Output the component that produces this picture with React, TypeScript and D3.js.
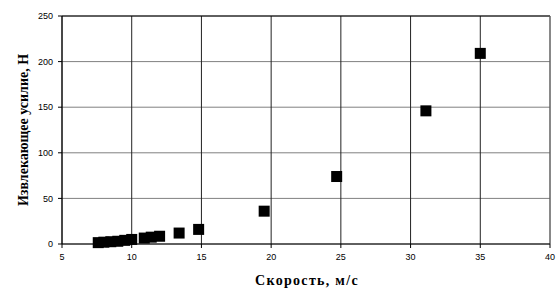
import * as d3 from 'd3'
import React from 'react'

// speed, m/s
const speeds = [7.6, 8.0, 8.5, 9.0, 9.5, 10.0, 10.9, 11.4, 12.0, 13.4, 14.8, 19.5, 24.7, 31.1, 35.0]
// pull-out force, N
const forces = [1.5, 2, 2.5, 3, 4, 5, 6.5, 7.5, 8.5, 12, 16, 36, 74, 146, 209]

const xTicks = [5, 10, 15, 20, 25, 30, 35, 40]
const yTicks = [0, 50, 100, 150, 200, 250]

const width = 559
const height = 290
const margin = { top: 16, right: 9, bottom: 46, left: 62 }

const App = () => {
  const x = d3.scaleLinear().domain([5, 40]).range([margin.left, width - margin.right])
  const y = d3.scaleLinear().domain([0, 250]).range([height - margin.bottom, margin.top])

  const x0 = x(5)
  const x1 = x(40)
  const y0 = y(0)
  const y1 = y(250)
  const box = 11

  return (
    <svg
      width={width}
      height={height}
      style={{ position: 'absolute', left: 0, top: 0, background: '#fff' }}
    >
      {/* horizontal grid */}
      {yTicks.map((t) => (
        <line key={'gy' + t} x1={x0} x2={x1} y1={y(t)} y2={y(t)} stroke="#808080" strokeWidth={1} />
      ))}
      {/* vertical grid */}
      {xTicks.map((t) => (
        <line key={'gx' + t} x1={x(t)} x2={x(t)} y1={y1} y2={y0} stroke="#222" strokeWidth={1} />
      ))}
      {/* frame */}
      <line x1={x0} x2={x1} y1={y1} y2={y1} stroke="#000" />
      <line x1={x1} x2={x1} y1={y1} y2={y0} stroke="#808080" />
      <line x1={x0} x2={x0} y1={y1} y2={y0} stroke="#000" />
      <line x1={x0} x2={x1} y1={y0} y2={y0} stroke="#000" />

      {/* y ticks */}
      {yTicks.map((t) => (
        <g key={'ty' + t}>
          <line x1={x0 - 4} x2={x0} y1={y(t)} y2={y(t)} stroke="#000" />
          <text
            x={x0 - 9}
            y={y(t)}
            dy="0.35em"
            textAnchor="end"
            fontFamily="Arial, 'Liberation Sans', sans-serif"
            fontSize={9}
            fill="#000"
          >
            {t}
          </text>
        </g>
      ))}
      {/* x ticks */}
      {xTicks.map((t) => (
        <g key={'tx' + t}>
          <line x1={x(t)} x2={x(t)} y1={y0} y2={y0 + 4} stroke="#000" />
          <text
            x={x(t)}
            y={y0 + 13}
            dy="0.35em"
            textAnchor="middle"
            fontFamily="Arial, 'Liberation Sans', sans-serif"
            fontSize={9}
            fill="#000"
          >
            {t}
          </text>
        </g>
      ))}

      {/* points */}
      {speeds.map((s, i) => (
        <rect
          key={'p' + i}
          x={x(s) - box / 2}
          y={y(forces[i]) - box / 2}
          width={box}
          height={box}
          fill="#000"
        />
      ))}

      {/* axis titles */}
      <text
        x={307}
        y={285}
        textAnchor="middle"
        fontFamily="'Times New Roman', 'Liberation Serif', serif"
        fontWeight="bold"
        fontSize={14}
        letterSpacing={1.3}
      >
        Скорость, м/с
      </text>
      <text
        transform={`translate(28, ${(y0 + y1) / 2}) rotate(-90)`}
        textAnchor="middle"
        fontFamily="'Times New Roman', 'Liberation Serif', serif"
        fontWeight="bold"
        fontSize={14}
      >
        Извлекающее усилие, Н
      </text>
    </svg>
  )
}

export default App
